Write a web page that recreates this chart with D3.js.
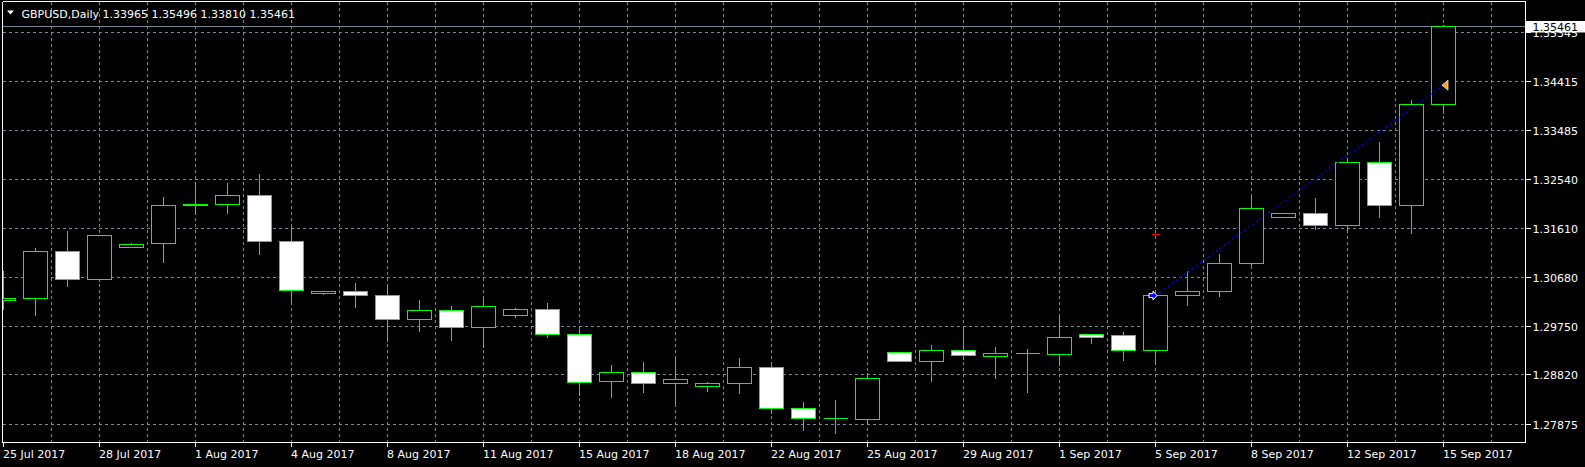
<!DOCTYPE html>
<html>
<head>
<meta charset="utf-8">
<script src="https://cdn.jsdelivr.net/npm/d3@7"></script>
<style>
  html, body { margin: 0; padding: 0; background: #000; }
  svg { display: block; }
  text { font-family: "DejaVu Sans", sans-serif; font-size: 11px; }
</style>
</head>
<body>
<svg id="chart" width="1585" height="467"></svg>
<script>
// ---------- DATA ----------
const symbol = "GBPUSD,Daily";
const dates = ["2017-07-25","2017-07-26","2017-07-27","2017-07-28","2017-07-30","2017-07-31",
  "2017-08-01","2017-08-02","2017-08-03","2017-08-04","2017-08-06","2017-08-07","2017-08-08",
  "2017-08-09","2017-08-10","2017-08-11","2017-08-13","2017-08-14","2017-08-15","2017-08-16",
  "2017-08-17","2017-08-18","2017-08-20","2017-08-21","2017-08-22","2017-08-23","2017-08-24",
  "2017-08-25","2017-08-27","2017-08-28","2017-08-29","2017-08-30","2017-08-31","2017-09-01",
  "2017-09-03","2017-09-04","2017-09-05","2017-09-06","2017-09-07","2017-09-08","2017-09-10",
  "2017-09-11","2017-09-12","2017-09-13","2017-09-14","2017-09-15"];
const open = [1.30242,1.30267,1.31177,1.30630,1.31240,1.31317,1.32046,1.32061,1.32241,1.31363,
  1.30362,1.30408,1.30332,1.29885,1.30045,1.29732,1.29961,1.30064,1.29587,1.28690,
  1.28862,1.28652,1.28606,1.28652,1.28957,1.28186,1.27984,1.27976,1.29244,1.29072,
  1.29282,1.29179,1.29224,1.29217,1.29587,1.29568,1.29282,1.30332,1.30408,1.30943,
  1.31821,1.31897,1.31668,1.32871,1.32050,1.33965];
const high = [1.30815,1.31254,1.31578,1.31502,1.31349,1.32227,1.32489,1.32495,1.32667,1.31674,
  1.30408,1.30586,1.30547,1.30261,1.30147,1.30313,1.30108,1.30204,1.29740,1.29020,
  1.29077,1.29167,1.28696,1.29154,1.29072,1.28314,1.28352,1.28862,1.29244,1.29402,
  1.29759,1.29364,1.29326,1.29956,1.29612,1.29644,1.30332,1.30815,1.31139,1.32247,
  1.31922,1.32208,1.32972,1.33277,1.34060,1.35496];
const low = [1.30064,1.29961,1.30496,1.30591,1.31240,1.30954,1.31878,1.31890,1.31107,1.30204,
  1.30343,1.30114,1.29465,1.29656,1.29484,1.29350,1.29923,1.29541,1.28434,1.28396,
  1.28491,1.28281,1.28510,1.28472,1.28079,1.27766,1.27709,1.27888,1.29072,1.28701,
  1.29121,1.28759,1.28491,1.29007,1.29427,1.29102,1.29014,1.30152,1.30305,1.30910,
  1.31821,1.31584,1.31534,1.31813,1.31508,1.33810];
const close = [1.30280,1.31177,1.30630,1.31477,1.31305,1.32050,1.32075,1.32241,1.31363,1.30427,
  1.30408,1.30324,1.29885,1.30045,1.29732,1.30122,1.30064,1.29587,1.28671,1.28862,
  1.28652,1.28728,1.28652,1.28957,1.28186,1.27984,1.27989,1.28747,1.29072,1.29282,
  1.29186,1.29224,1.29224,1.29530,1.29541,1.29282,1.30332,1.30408,1.30943,1.31993,
  1.31897,1.31668,1.32871,1.32050,1.33965,1.35461];
const yTicks = [1.35345,1.34415,1.33485,1.32540,1.31610,1.30680,1.29750,1.28820,1.27875];
const xTickDates = ["2017-07-25","2017-07-28","2017-08-01","2017-08-04","2017-08-08","2017-08-11",
  "2017-08-15","2017-08-18","2017-08-22","2017-08-25","2017-08-29","2017-09-01","2017-09-05",
  "2017-09-08","2017-09-12","2017-09-15"];
const xTickLabels = ["25 Jul 2017","28 Jul 2017","1 Aug 2017","4 Aug 2017","8 Aug 2017","11 Aug 2017",
  "15 Aug 2017","18 Aug 2017","22 Aug 2017","25 Aug 2017","29 Aug 2017","1 Sep 2017","5 Sep 2017",
  "8 Sep 2017","12 Sep 2017","15 Sep 2017"];
const bidPrice = 1.35461;
// trade: entry / exit / take-profit / stop-loss
const tradeDates = ["2017-09-05","2017-09-15"];
const tradePrices = [1.30332, 1.34341];
const takeProfit = 1.34341;
const stopLoss = 1.31496;

(function () {
// ---------- LAYOUT ----------
const W = 1585, H = 467;
const pL = 2.5, pR = 1525.5, pT = 1.5, pB = 442.5;
const svg = d3.select("#chart");
svg.append("rect").attr("width", W).attr("height", H).attr("fill", "#000");

const x = d3.scalePoint().domain(dates).range([3.5, 3.5 + 32 * (dates.length - 1)]);
const xi = d3.scaleLinear().domain([0, dates.length - 1]).range(x.range());
const y = d3.scaleLinear().domain([1.27875, 1.35345]).range([424.5, 32.5]);
const snap = v => Math.round(v - 0.5) + 0.5;

const gridColor = "#778899";
const green = "#00ff00";

svg.append("clipPath").attr("id", "plot")
  .append("rect").attr("x", pL + 0.5).attr("y", pT + 0.5)
  .attr("width", pR - pL - 1).attr("height", pB - pT - 1);

const plot = svg.append("g").attr("clip-path", "url(#plot)").attr("shape-rendering", "crispEdges");

// horizontal grid
plot.selectAll(".hg").data(yTicks).join("line")
  .attr("x1", pL).attr("x2", pR)
  .attr("y1", d => snap(y(d))).attr("y2", d => snap(y(d)))
  .attr("stroke", gridColor).attr("stroke-dasharray", "3,3");

// vertical grid (every 1.5 bars)
const vg = d3.range(1, 40).map(k => xi(k * 1.5)).filter(v => v < pR);
plot.selectAll(".vg").data(vg).join("line")
  .attr("x1", d => d).attr("x2", d => d)
  .attr("y1", pT).attr("y2", pB)
  .attr("stroke", gridColor).attr("stroke-dasharray", "3,3");

// bid line
plot.append("line").attr("x1", pL).attr("x2", pR)
  .attr("y1", snap(y(bidPrice))).attr("y2", snap(y(bidPrice)))
  .attr("stroke", gridColor);

// candles
const candles = dates.map((d, i) => ({d, o: open[i], h: high[i], l: low[i], c: close[i]}));
const cg = plot.selectAll(".candle").data(candles).join("g");
cg.append("line")
  .attr("x1", d => x(d.d)).attr("x2", d => x(d.d))
  .attr("y1", d => snap(y(d.h))).attr("y2", d => snap(y(d.l)))
  .attr("stroke", green);
cg.append("path")
  .attr("d", d => {
    const cx = x(d.d);
    const t = snap(y(Math.max(d.o, d.c))), b = snap(y(Math.min(d.o, d.c)));
    return `M${cx - 12},${t}H${cx + 12}V${b}H${cx - 12}Z`;
  })
  .attr("fill", d => d.c < d.o ? "#ffffff" : "#000000")
  .attr("stroke", green);

// trade objects
const tg = svg.append("g");
const ex = tradeDates.map(d => x(d)), ey = tradePrices.map(p => y(p));
tg.append("line").attr("x1", ex[0]).attr("y1", ey[0]).attr("x2", ex[1]).attr("y2", ey[1])
  .attr("stroke", "#0000ff").attr("stroke-width", 1.4).attr("stroke-dasharray", "2,3");
tg.append("line").attr("shape-rendering", "crispEdges")
  .attr("x1", ex[0] - 4).attr("x2", ex[0] + 4)
  .attr("y1", snap(y(takeProfit))).attr("y2", snap(y(takeProfit))).attr("stroke", "#0000ff");
tg.append("line").attr("shape-rendering", "crispEdges")
  .attr("x1", ex[0] - 4).attr("x2", ex[0] + 4)
  .attr("y1", snap(y(stopLoss))).attr("y2", snap(y(stopLoss))).attr("stroke", "#ff0000");
// entry arrow (blue, white outline)
tg.append("path")
  .attr("d", `M${ex[0] + 1.5},${ey[0]} l-4,-4.5 v2.5 h-4 v4 h4 v2.5 Z`)
  .attr("fill", "#0000ff").attr("stroke", "#ffffff").attr("stroke-width", 1);
// exit triangle (gold)
tg.append("path")
  .attr("d", `M${ex[1] - 1.5},${ey[1]} l6,-5 v10 Z`)
  .attr("fill", "#e8a828").attr("stroke", "#ffe0a0").attr("stroke-width", 0.8);

// frame
const fr = svg.append("g").attr("shape-rendering", "crispEdges");
fr.append("line").attr("x1", pL).attr("x2", pL).attr("y1", pT).attr("y2", pB).attr("stroke", "#fff");
fr.append("line").attr("x1", pR).attr("x2", pR).attr("y1", pT).attr("y2", pB).attr("stroke", "#fff");
fr.append("line").attr("x1", pL).attr("x2", pR).attr("y1", pT).attr("y2", pT).attr("stroke", "#fff");
fr.append("line").attr("x1", pL).attr("x2", pR).attr("y1", pB).attr("y2", pB).attr("stroke", "#fff");

// right price axis
const ya = svg.append("g");
ya.selectAll("line").data(yTicks).join("line").attr("shape-rendering", "crispEdges")
  .attr("x1", pR).attr("x2", pR + 5)
  .attr("y1", d => snap(y(d))).attr("y2", d => snap(y(d))).attr("stroke", "#fff");
ya.selectAll("text").data(yTicks).join("text")
  .attr("x", 1532.5).attr("y", d => snap(y(d)) + 4)
  .attr("fill", "#fff").text(d => d.toFixed(5));

// bid label
svg.append("rect").attr("x", 1526).attr("y", snap(y(bidPrice)) - 5.5)
  .attr("width", W - 1526).attr("height", 11.5).attr("fill", "#fff");
svg.append("text").attr("x", 1532.5).attr("y", snap(y(bidPrice)) + 4)
  .attr("fill", "#000").text(bidPrice.toFixed(5));

// bottom date axis
const xa = svg.append("g");
xa.selectAll("line").data(xTickDates).join("line").attr("shape-rendering", "crispEdges")
  .attr("x1", d => x(d)).attr("x2", d => x(d))
  .attr("y1", pB).attr("y2", pB + 4).attr("stroke", "#fff");
xa.selectAll("text").data(xTickDates).join("text")
  .attr("x", d => x(d) - 0.5).attr("y", 458)
  .attr("fill", "#fff").text((d, i) => xTickLabels[i]);

// title
const last = dates.length - 1;
svg.append("path").attr("d", "M7,10.5 H14 L10.5,14.5 Z").attr("fill", "#fff");
svg.append("text").attr("x", 21.5).attr("y", 17.5).attr("fill", "#fff").text(symbol);
svg.append("text").attr("x", 102.5).attr("y", 17.5).attr("fill", "#fff")
  .text([open[last], high[last], low[last], close[last]].map(v => v.toFixed(5)).join(" "));
})();
</script>
</body>
</html>
